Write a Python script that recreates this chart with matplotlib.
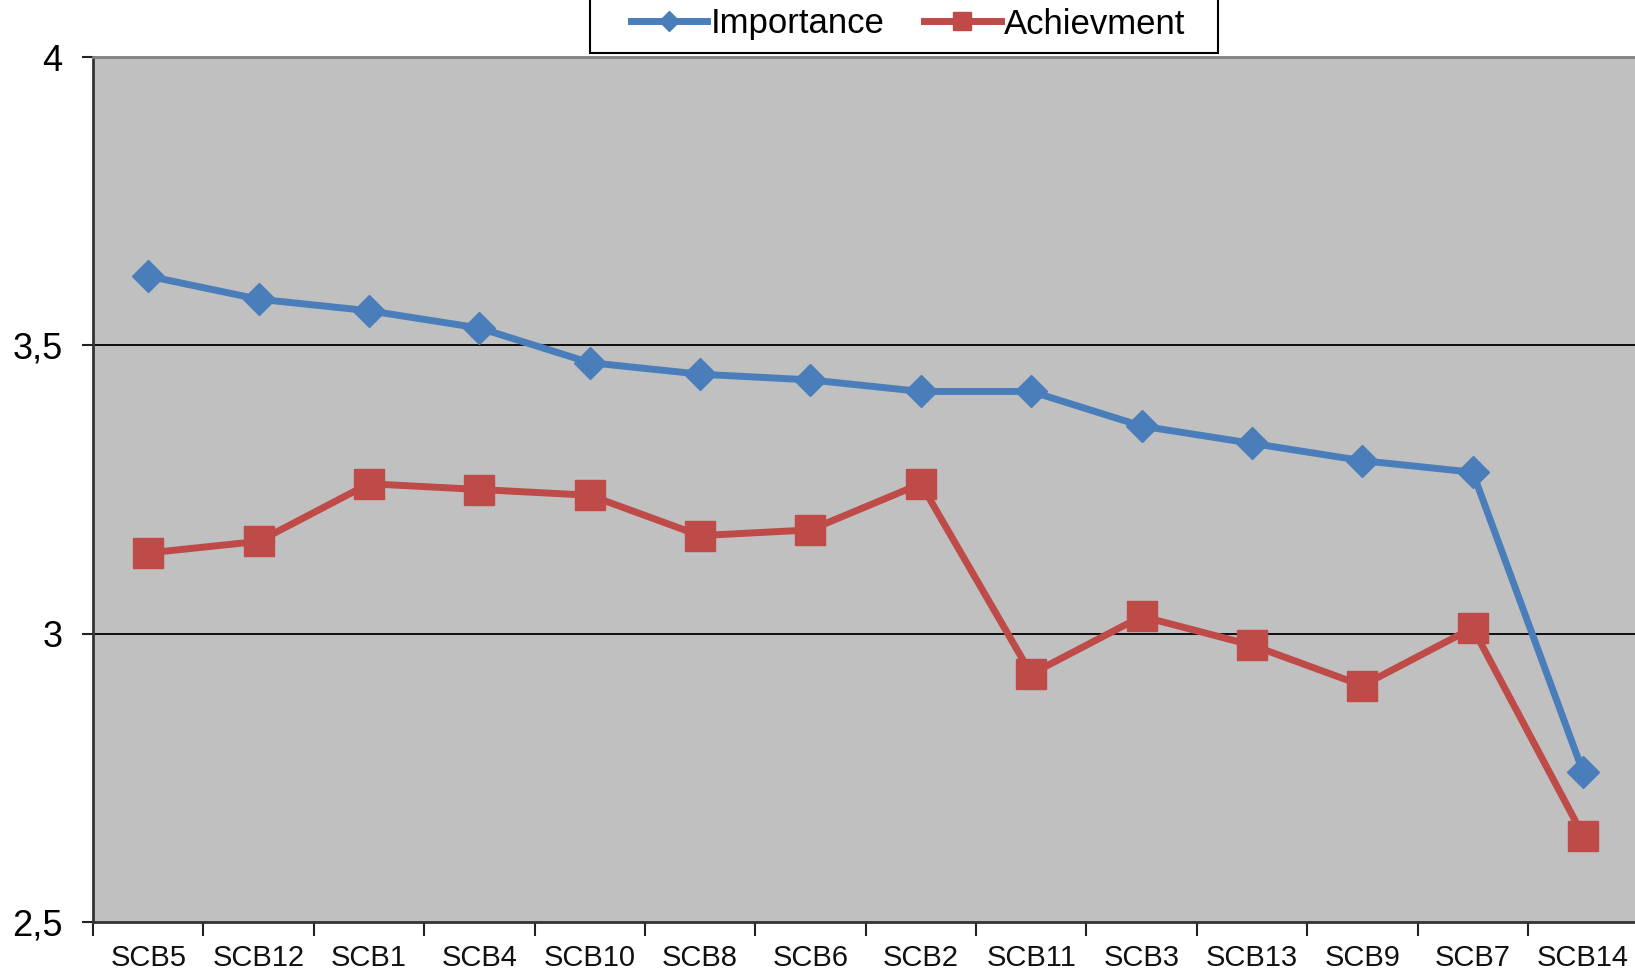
import matplotlib
matplotlib.use("Agg")
import matplotlib.pyplot as plt
from matplotlib.patches import Rectangle
import numpy as np

categories = ["SCB5", "SCB12", "SCB1", "SCB4", "SCB10", "SCB8", "SCB6",
              "SCB2", "SCB11", "SCB3", "SCB13", "SCB9", "SCB7", "SCB14"]
importance = [3.62, 3.58, 3.56, 3.53, 3.47, 3.45, 3.44,
              3.42, 3.42, 3.36, 3.33, 3.30, 3.28, 2.76]
achievement = [3.14, 3.16, 3.26, 3.25, 3.24, 3.17, 3.18,
               3.26, 2.93, 3.03, 2.98, 2.91, 3.01, 2.65]
y_ticks = [2.5, 3.0, 3.5, 4.0]
y_tick_labels = ["2,5", "3", "3,5", "4"]

plt.rcParams['font.family'] = ['Liberation Sans', 'DejaVu Sans']

W, H = 1635, 972
fig = plt.figure(figsize=(W / 100, H / 100), dpi=100)
ax = fig.add_axes([93 / W, 1 - 922 / H, (W - 93) / W + 0.002, (922 - 57) / H])
ax.set_facecolor("#C0C0C0")

x = np.arange(len(categories)) + 0.5
blue = "#4A7EBB"
red = "#BE4B48"
l1, = ax.plot(x, importance, color=blue, lw=5, marker="D", ms=16,
              mec=blue, mfc=blue, label="Importance", zorder=4)
l2, = ax.plot(x, achievement, color=red, lw=5, marker="s", ms=21,
              mec=red, mfc=red, label="Achievment", zorder=4)

ax.set_xlim(0, len(categories))
ax.set_ylim(2.5, 4.0)
ax.set_yticks(y_ticks)
ax.set_yticklabels(y_tick_labels, fontsize=26)
ax.set_xticks(np.arange(len(categories) + 1))
ax.set_xticklabels([])
ax.set_xticks(x, minor=True)
ax.set_xticklabels(categories, minor=True, fontsize=21, color="#111111")
ax.tick_params(axis="x", which="minor", length=0, pad=16)
ax.tick_params(axis="x", which="major", length=10, width=1.5, direction="out", color="#222222")
ax.tick_params(axis="y", length=8, width=1.5, direction="out", color="#222222", pad=14)

for v in [3.0, 3.5]:
    ax.axhline(v, color="black", lw=1.3, zorder=1)

ax.spines["left"].set_color("#333333")
ax.spines["left"].set_linewidth(2)
ax.spines["bottom"].set_color("#333333")
ax.spines["bottom"].set_linewidth(2)
ax.spines["top"].set_color("#808080")
ax.spines["top"].set_linewidth(2)
ax.spines["right"].set_visible(False)

# legend box (top edge lies above the figure, as in the reference)
fig.patches.append(Rectangle((590 / W, 1 - 53 / H), 628 / W, 70 / H,
                             transform=fig.transFigure, facecolor="white",
                             edgecolor="black", lw=1.5, zorder=5))
leg = fig.legend(handles=[l1, l2], loc="center",
                 bbox_to_anchor=(908 / W, 1 - 24 / H), ncol=2, fontsize=25,
                 frameon=False, handlelength=2.2, handletextpad=0.1,
                 columnspacing=1.15, borderpad=0, markerscale=0.65)
leg.set_zorder(6)
for line in leg.get_lines():
    line.set_linewidth(5)

fig.savefig("out.png", dpi=100)
